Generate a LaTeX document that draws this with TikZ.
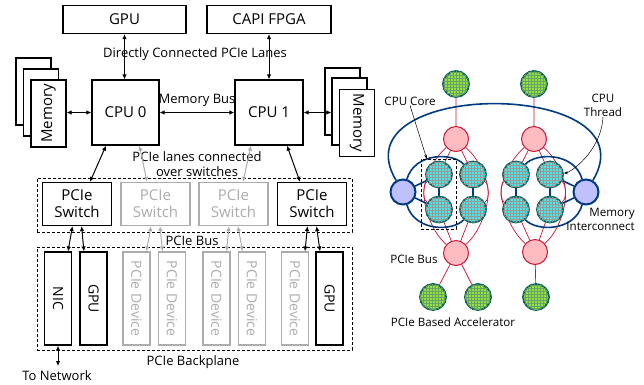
\documentclass[tikz,border=0pt]{standalone}
\usepackage{fontspec}
\setmainfont{Open Sans}
\usetikzlibrary{arrows.meta,patterns,backgrounds}
\definecolor{dimgray}{RGB}{172,172,172}
\definecolor{coreteal}{RGB}{12,100,90}
\definecolor{corecyan}{RGB}{70,232,232}
\definecolor{accgreen}{RGB}{150,225,60}
\definecolor{hubpink}{RGB}{255,188,192}
\definecolor{hubred}{RGB}{200,22,52}
\definecolor{memblue}{RGB}{192,192,255}
\definecolor{linkblue}{RGB}{0,58,130}
\newcommand{\uptext}[1]{\rotatebox{90}{#1}}
\newcommand{\downtext}[1]{\rotatebox{-90}{#1}}

\begin{document}
\begin{tikzpicture}[x=1pt, y=-1pt,
    box/.style={draw, line width=1.2pt, fill=white, inner sep=0pt, font=\fontsize{15}{17}\selectfont},
    dim/.style={draw=dimgray, text=dimgray},
    memstack/.style={box, minimum width=35pt, minimum height=67pt},
    switchbox/.style={box, minimum width=69pt, minimum height=43pt, align=center},
    device/.style={box, minimum width=27pt, minimum height=93pt, font=\fontsize{14}{16}\selectfont},
    group/.style={draw, densely dashed, line width=0.6pt, inner sep=0pt},
    lbl/.style={inner sep=0pt, font=\fontsize{13}{15}\selectfont},
    small/.style={inner sep=0pt, font=\fontsize{11.6}{14}\selectfont},
    biarrow/.style={{Latex[length=5pt,width=4.5pt]}-{Latex[length=5pt,width=4.5pt]}, line width=1pt},
    accel/.style={circle, draw=coreteal, line width=1.8pt, fill=accgreen, postaction={pattern=grid, pattern color=green!40!black!60}, minimum size=26pt, inner sep=0pt},
    hub/.style={circle, draw=hubred, line width=1pt, fill=hubpink, minimum size=25pt, inner sep=0pt},
    core/.style={circle, draw=coreteal, line width=1.8pt, fill=corecyan, postaction={pattern=grid, pattern color=black!40}, minimum size=26pt, inner sep=0pt},
    memif/.style={circle, draw=linkblue, line width=2pt, fill=memblue, minimum size=25pt, inner sep=0pt},
    redge/.style={draw=hubred, line width=0.7pt},
    bedge/.style={draw=linkblue, line width=1.6pt}]
    \useasboundingbox (0,0) rectangle (644,384);

    \node[box, minimum width=123pt, minimum height=28pt] (gpu) at (124.5,19.5) {GPU};
    \node[box, minimum width=124pt, minimum height=28pt] (capi) at (269,19.5) {CAPI FPGA};
    \node[box, minimum width=67pt, minimum height=65pt] (cpu0) at (125.5,112.5) {CPU 0};
    \node[box, minimum width=68pt, minimum height=65pt] (cpu1) at (269,112.5) {CPU 1};

    \node[memstack] (memL3) at (33.5,91.5) {};
    \node[memstack] (memL2) at (41,102.5) {};
    \node[memstack] (memL1) at (48.5,113.5) {\uptext{Memory}};
    \node[memstack] (memR3) at (342.5,101.5) {};
    \node[memstack] (memR2) at (349.5,111.5) {};
    \node[memstack] (memR1) at (357,123) {\downtext{Memory}};

    \node[group, minimum width=315pt, minimum height=54pt] (swgroup) at (194.5,205) {};
    \node[group, minimum width=315pt, minimum height=103pt] (backplane) at (194.5,298.5) {};
    \node[switchbox] (sw1) at (77,204) {PCIe\\Switch};
    \node[switchbox, dim] (sw2) at (155.5,204) {PCIe\\Switch};
    \node[switchbox, dim] (sw3) at (233.5,204) {PCIe\\Switch};
    \node[switchbox] (sw4) at (312,204) {PCIe\\Switch};

    \node[device] (nic) at (58,298.5) {\downtext{NIC}};
    \node[device] (gpuA) at (93.5,298.5) {\downtext{GPU}};
    \node[device, dim] (d1) at (136.5,298.5) {\downtext{PCIe Device}};
    \node[device, dim] (d2) at (172,298.5) {\downtext{PCIe Device}};
    \node[device, dim] (d3) at (216.5,298.5) {\downtext{PCIe Device}};
    \node[device, dim] (d4) at (252,298.5) {\downtext{PCIe Device}};
    \node[device, dim] (d5) at (295,298.5) {\downtext{PCIe Device}};
    \node[device] (gpuB) at (329.5,298.5) {\downtext{GPU}};

    \node[lbl] (direct) at (195,54) {Directly Connected PCIe Lanes};
    \node[lbl] (membus) at (197,100) {Memory Bus};
    \node[lbl, align=center] (overlbl) at (197,164.5) {PCIe lanes connected\\over switches};
    \node[lbl] (buslbl) at (192,241) {PCIe Bus};
    \node[lbl] (bplbl) at (193,362) {PCIe Backplane};
    \node[lbl] (netlbl) at (57,376) {To Network};
    \coordinate (netend) at (58,366);

    \draw[biarrow] (gpu.south) -- (gpu.south |- cpu0.north);
    \draw[biarrow] (capi.south) -- (capi.south |- cpu1.north);
    \draw[biarrow, line width=1.8pt] (cpu0.east) -- (cpu1.west);
    \draw[biarrow] (cpu0.west) -- (cpu0.west -| memL1.east);
    \draw[biarrow] (cpu1.east) -- (cpu1.east -| memR2.west);
    \draw[biarrow] ([xshift=-19.5pt]cpu0.south) -- ([xshift=13pt]sw1.north);
    \draw[biarrow, dimgray] ([xshift=14pt]cpu0.south) -- ([xshift=-8.5pt]sw2.north);
    \draw[biarrow, dimgray] ([xshift=-18pt]cpu1.south) -- ([xshift=9.5pt]sw3.north);
    \draw[biarrow] ([xshift=18pt]cpu1.south) -- ([xshift=-12pt]sw4.north);
    \foreach \s/\a/\b/\c in {sw1/nic/gpuA/black, sw2/d1/d2/dimgray, sw3/d3/d4/dimgray, sw4/d5/gpuB/black}{
        \draw[biarrow, \c] ([xshift=-4.5pt]\s.south) -- ([xshift=10pt]\a.north);
        \draw[biarrow, \c] ([xshift=4.5pt]\s.south) -- ([xshift=-9.5pt]\b.north);
    }
    \draw[biarrow] (nic.south) -- (netend);

    \node[accel] (a1) at (456,84) {};
    \node[accel] (a2) at (534,84) {};
    \node[hub] (p1) at (456,139) {};
    \node[hub] (p2) at (534,139) {};
    \node[core] (c11) at (439,174.5) {};
    \node[core] (c12) at (473,174.5) {};
    \node[core] (c13) at (439,209.5) {};
    \node[core] (c14) at (473,209.5) {};
    \node[core] (c21) at (516,174.5) {};
    \node[core] (c22) at (550,174.5) {};
    \node[core] (c23) at (516,209.5) {};
    \node[core] (c24) at (550,209.5) {};
    \node[memif] (mi1) at (403,192) {};
    \node[memif] (mi2) at (586,192) {};
    \node[hub] (q1) at (456,253) {};
    \node[hub] (q2) at (535,252) {};
    \node[accel] (b1) at (433,297) {};
    \node[accel] (b2) at (478,297) {};
    \node[accel] (b3) at (536,297) {};
    \node[group, minimum width=35pt, minimum height=70pt] (corebox) at (438.5,194) {};

    \node[small] (corelbl) at (410,101) {CPU Core};
    \node[small, align=center] (thrlbl) at (603,105.5) {CPU\\Thread};
    \node[small, align=right, anchor=east] (milbl) at (635,219.5) {Memory\\Interconnect};
    \node[small] (pbuslbl) at (414,259) {PCIe Bus};
    \node[small] (acclbl) at (453,322) {PCIe Based Accelerator};

    \begin{scope}[on background layer]
    \foreach \t/\b/\l/\r/\bl/\br in {p1/q1/c11/c12/c13/c14, p2/q2/c21/c22/c23/c24}{
        \draw[redge] (\t) -- (\l) (\t) -- (\r) (\b) -- (\bl) (\b) -- (\br);
        \draw[redge] (\t) .. controls +(-30,26) and +(-20,-12) .. (\bl);
        \draw[redge] (\t) .. controls +(30,26) and +(20,-12) .. (\br);
        \draw[redge] (\b) .. controls +(-30,-26) and +(-20,12) .. (\l);
        \draw[redge] (\b) .. controls +(30,-26) and +(20,12) .. (\r);
        \draw[bedge] (\l) -- (\bl) (\r) -- (\br);
    }
    \draw[redge] (a1) -- (p1) (a2) -- (p2) (q1) -- (b1) (q1) -- (b2) (q2) -- (b3);
    \draw[bedge] (mi1) -- (c11) (mi1) -- (c13) (mi2) -- (c22) (mi2) -- (c24);
    \draw[bedge] (mi1) .. controls +(12,-40) and +(-20,-22) .. (c12);
    \draw[bedge] (mi1) .. controls +(12,40) and +(-20,22) .. (c14);
    \draw[bedge] (mi2) .. controls +(-12,-40) and +(20,-22) .. (c21);
    \draw[bedge] (mi2) .. controls +(-12,40) and +(20,22) .. (c23);
    \draw[bedge] (mi1) .. controls (335,78) and (654,78) .. (mi2);
    \end{scope}

    \draw[-{Stealth[length=4pt]}, line width=0.5pt] (corelbl.south) -- ([xshift=6pt]corebox.north west);
    \draw[-{Stealth[length=4pt]}, line width=0.5pt] (thrlbl.south) .. controls +(-2,35) and +(20,-2) .. (c22);
\end{tikzpicture}
\end{document}
